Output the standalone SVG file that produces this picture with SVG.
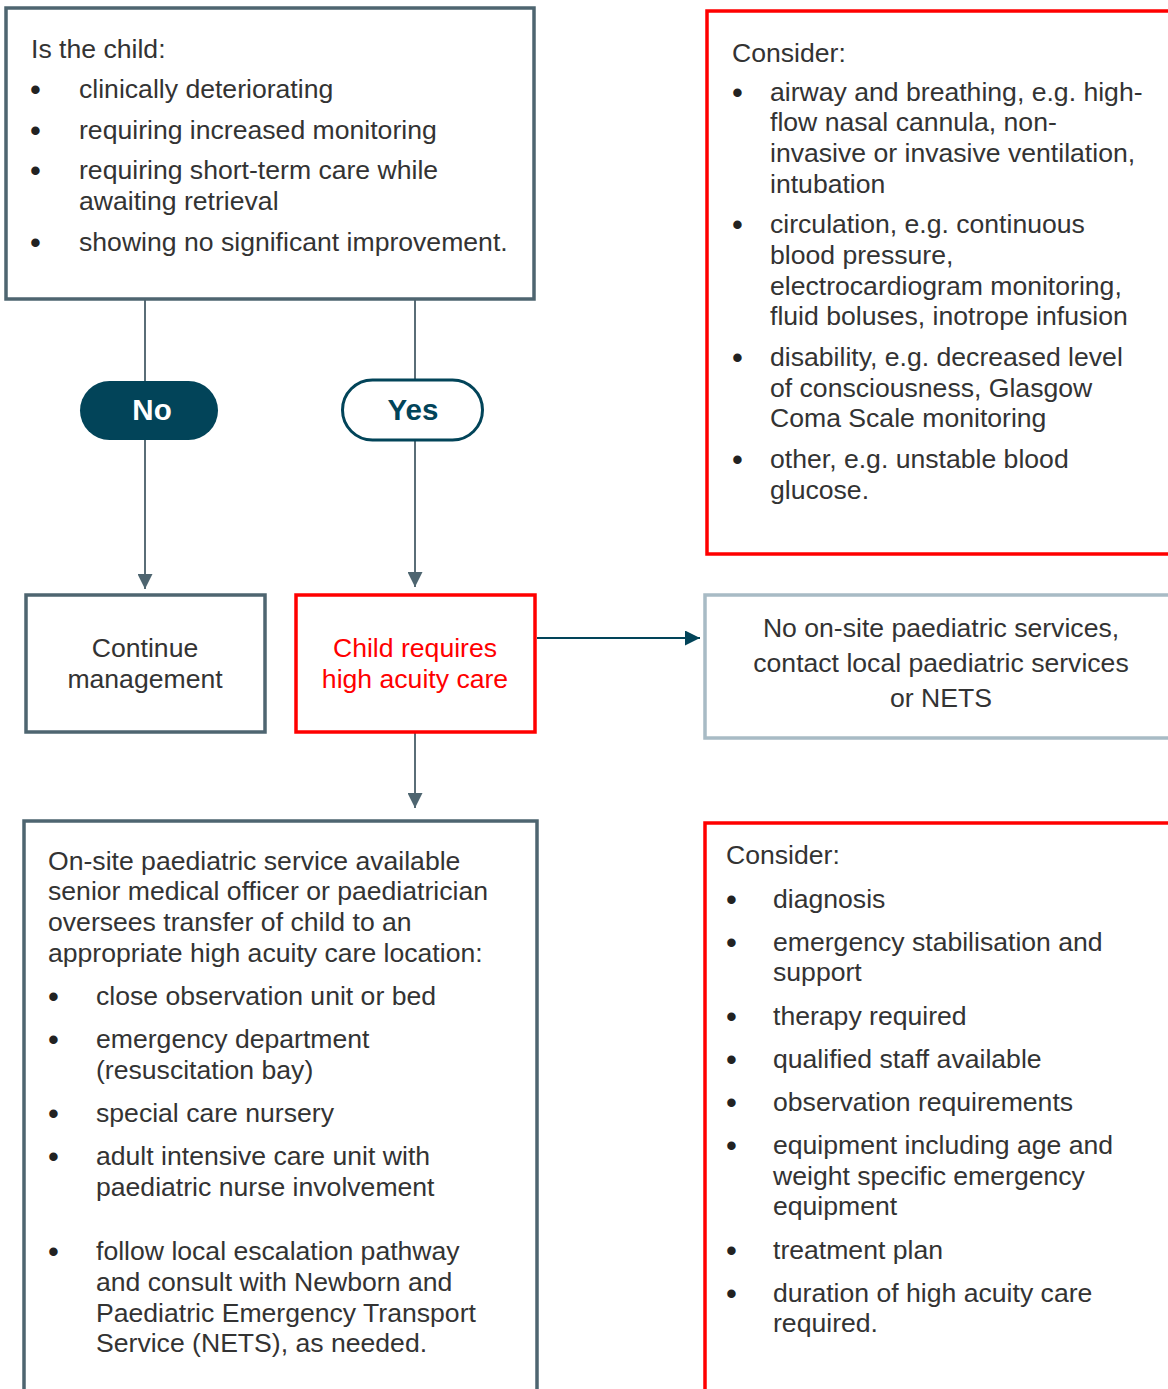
<svg xmlns="http://www.w3.org/2000/svg" width="1168" height="1389" viewBox="0 0 1168 1389">
<defs>
<style>
text{font-family:"Liberation Sans",Arial,sans-serif;font-size:26.6px;fill:#333333}
text.b{font-size:31px;fill:#222222}
.box{fill:#ffffff;stroke:#4e6570;stroke-width:3.5}
.red{fill:#ffffff;stroke:#ff0000;stroke-width:3.5}
.light{fill:#ffffff;stroke:#a8bbc5;stroke-width:3.5}
.conn{stroke:#5a6d77;stroke-width:2;fill:none}
.conn2{stroke:#024459;stroke-width:2;fill:none}
.c{text-anchor:middle}
.pill{font-size:29.5px;font-weight:bold;text-anchor:middle}
</style>
<marker id="ah" viewBox="0 0 10 10" refX="10" refY="5" markerWidth="15" markerHeight="15" markerUnits="userSpaceOnUse" orient="auto"><path d="M0,0L10,5L0,10z" fill="#4e6570"/></marker>
<marker id="ah2" viewBox="0 0 10 10" refX="10" refY="5" markerWidth="15" markerHeight="15" markerUnits="userSpaceOnUse" orient="auto"><path d="M0,0L10,5L0,10z" fill="#024459"/></marker>
</defs>
<g id="connectors">
<line class="conn" x1="145" y1="300" x2="145" y2="381"/>
<line class="conn" x1="415" y1="300" x2="415" y2="379"/>
<line class="conn" x1="145" y1="440" x2="145" y2="589" marker-end="url(#ah)"/>
<line class="conn" x1="415" y1="441" x2="415" y2="587" marker-end="url(#ah)"/>
<line class="conn2" x1="537" y1="638" x2="700" y2="638" marker-end="url(#ah2)"/>
<line class="conn" x1="415" y1="733" x2="415" y2="808" marker-end="url(#ah)"/>
</g>
<g id="question">
<rect class="box" x="6" y="8" width="528" height="291"/>
<text x="31" y="58">Is the child:</text>
<text class="b" x="30" y="100">•</text><text x="79" y="98">clinically deteriorating</text>
<text class="b" x="30" y="141">•</text><text x="79" y="139">requiring increased monitoring</text>
<text class="b" x="30" y="181">•</text><text x="79" y="179">requiring short-term care while</text>
<text x="79" y="210">awaiting retrieval</text>
<text class="b" x="30" y="253">•</text><text x="79" y="251">showing no significant improvement.</text>
</g>
<g id="no">
<rect x="80" y="381" width="138" height="59" rx="29.5" fill="#024459"/>
<text class="pill" x="152" y="420" style="fill:#ffffff">No</text>
</g>
<g id="yes">
<rect x="342.5" y="380" width="140" height="60" rx="30" fill="#ffffff" stroke="#024459" stroke-width="3"/>
<text class="pill" x="413" y="420" style="fill:#024459">Yes</text>
</g>
<g id="consider-top">
<rect class="red" x="707" y="11" width="500" height="543"/>
<text x="732" y="62">Consider:</text>
<text class="b" x="732" y="103">•</text><text x="770" y="101">airway and breathing, e.g. high-</text>
<text x="770" y="131">flow nasal cannula, non-</text>
<text x="770" y="162">invasive or invasive ventilation,</text>
<text x="770" y="193">intubation</text>
<text class="b" x="732" y="235">•</text><text x="770" y="233">circulation, e.g. continuous</text>
<text x="770" y="264">blood pressure,</text>
<text x="770" y="295">electrocardiogram monitoring,</text>
<text x="770" y="325">fluid boluses, inotrope infusion</text>
<text class="b" x="732" y="368">•</text><text x="770" y="366">disability, e.g. decreased level</text>
<text x="770" y="397">of consciousness, Glasgow</text>
<text x="770" y="427">Coma Scale monitoring</text>
<text class="b" x="732" y="470">•</text><text x="770" y="468">other, e.g. unstable blood</text>
<text x="770" y="499">glucose.</text>
</g>
<g id="continue">
<rect class="box" x="26" y="595" width="239" height="137"/>
<text class="c" x="145" y="657">Continue</text>
<text class="c" x="145" y="688">management</text>
</g>
<g id="high-acuity">
<rect class="red" x="296" y="595" width="239" height="137"/>
<text class="c" x="415" y="657" style="fill:#ff0000">Child requires</text>
<text class="c" x="415" y="688" style="fill:#ff0000">high acuity care</text>
</g>
<g id="nets">
<rect class="light" x="705" y="595" width="500" height="143"/>
<text class="c" x="941" y="637">No on-site paediatric services,</text>
<text class="c" x="941" y="672">contact local paediatric services</text>
<text class="c" x="941" y="707">or NETS</text>
</g>
<g id="onsite">
<rect class="box" x="24" y="821" width="513" height="600"/>
<text x="48" y="870">On-site paediatric service available</text>
<text x="48" y="900">senior medical officer or paediatrician</text>
<text x="48" y="931">oversees transfer of child to an</text>
<text x="48" y="962">appropriate high acuity care location:</text>
<text class="b" x="48" y="1007">•</text><text x="96" y="1005">close observation unit or bed</text>
<text class="b" x="48" y="1050">•</text><text x="96" y="1048">emergency department</text>
<text x="96" y="1079">(resuscitation bay)</text>
<text class="b" x="48" y="1124">•</text><text x="96" y="1122">special care nursery</text>
<text class="b" x="48" y="1167">•</text><text x="96" y="1165">adult intensive care unit with</text>
<text x="96" y="1196">paediatric nurse involvement</text>
<text class="b" x="48" y="1262">•</text><text x="96" y="1260">follow local escalation pathway</text>
<text x="96" y="1291">and consult with Newborn and</text>
<text x="96" y="1322">Paediatric Emergency Transport</text>
<text x="96" y="1352">Service (NETS), as needed.</text>
</g>
<g id="consider-bottom">
<rect class="red" x="705" y="823" width="500" height="600"/>
<text x="726" y="864">Consider:</text>
<text class="b" x="726" y="910">•</text><text x="773" y="908">diagnosis</text>
<text class="b" x="726" y="953">•</text><text x="773" y="951">emergency stabilisation and</text>
<text x="773" y="981">support</text>
<text class="b" x="726" y="1027">•</text><text x="773" y="1025">therapy required</text>
<text class="b" x="726" y="1070">•</text><text x="773" y="1068">qualified staff available</text>
<text class="b" x="726" y="1113">•</text><text x="773" y="1111">observation requirements</text>
<text class="b" x="726" y="1156">•</text><text x="773" y="1154">equipment including age and</text>
<text x="773" y="1185">weight specific emergency</text>
<text x="773" y="1215">equipment</text>
<text class="b" x="726" y="1261">•</text><text x="773" y="1259">treatment plan</text>
<text class="b" x="726" y="1304">•</text><text x="773" y="1302">duration of high acuity care</text>
<text x="773" y="1332">required.</text>
</g>
</svg>
